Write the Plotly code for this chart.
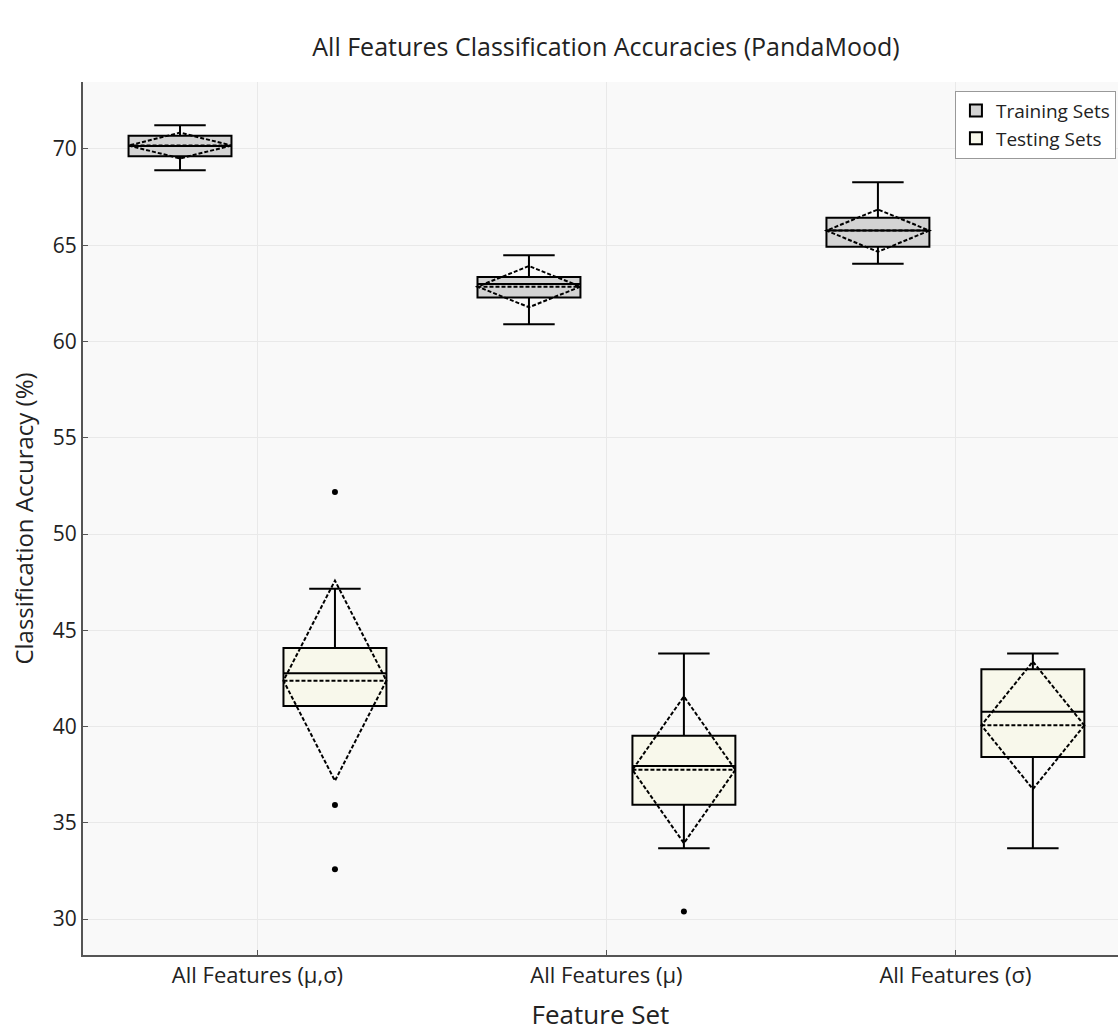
import plotly.graph_objects as go

# Feature sets on the x axis
categories = ["All Features (μ,σ)", "All Features (μ)", "All Features (σ)"]

# Training-set accuracy statistics (%)
train_q1 = [69.62, 62.28, 64.92]
train_median = [70.16, 62.99, 65.77]
train_q3 = [70.69, 63.35, 66.43]
train_low = [68.89, 60.89, 64.04]
train_high = [71.23, 64.48, 68.27]
train_mean = [70.18, 62.85, 65.76]
train_sd = [0.67, 1.07, 1.10]

# Testing-set accuracy statistics (%)
test_q1 = [41.07, 35.94, 38.42]
test_median = [42.77, 37.95, 40.77]
test_q3 = [44.08, 39.52, 42.97]
test_low = [41.07, 33.68, 33.68]
test_high = [47.16, 43.79, 43.79]
test_mean = [42.38, 37.75, 40.06]
test_sd = [5.20, 3.81, 3.31]

# Testing-set outliers: (category index, accuracy)
test_outliers_cat = [0, 0, 0, 1]
test_outliers_val = [52.18, 35.92, 32.58, 30.39]

offset = 0.222
box_width = 0.295
idx = list(range(len(categories)))

fig = go.Figure()

line = dict(color="black", width=2)

fig.add_trace(go.Box(
    name="Training Sets",
    x=[i - offset for i in idx],
    q1=train_q1, median=train_median, q3=train_q3,
    lowerfence=train_low, upperfence=train_high,
    mean=train_mean, sd=train_sd,
    boxmean="sd", width=box_width, whiskerwidth=0.5,
    fillcolor="#d3d3d3", line=line,
    boxpoints=False,
))

fig.add_trace(go.Box(
    name="Testing Sets",
    x=[i + offset for i in idx],
    q1=test_q1, median=test_median, q3=test_q3,
    lowerfence=test_low, upperfence=test_high,
    mean=test_mean, sd=test_sd,
    boxmean="sd", width=box_width, whiskerwidth=0.5,
    fillcolor="#f8f8eb", line=line,
    boxpoints=False,
))

fig.add_trace(go.Scatter(
    x=[c + offset for c in test_outliers_cat],
    y=test_outliers_val,
    mode="markers",
    marker=dict(color="black", size=6),
    showlegend=False,
    hoverinfo="y",
))

font_family = "Open Sans"
text_color = "#222222"

fig.update_layout(
    width=1118, height=1032,
    margin=dict(l=83, r=0, t=82, b=77, autoexpand=False),
    paper_bgcolor="white",
    plot_bgcolor="#f9f9f9",
    font=dict(family=font_family, color=text_color, size=20),
    title=dict(
        text="All Features Classification Accuracies (PandaMood)",
        x=606 / 1118, xref="container", xanchor="center",
        y=1 - 47 / 1032, yref="container", yanchor="middle",
        font=dict(size=25, family=font_family, color=text_color),
    ),
    showlegend=True,
    legend=dict(
        x=0.998, xref="paper", xanchor="right",
        y=0.99, yref="paper", yanchor="top",
        bgcolor="white", bordercolor="#999999", borderwidth=1,
        font=dict(size=19, family=font_family, color=text_color),
        tracegroupgap=0,
    ),
)

fig.update_xaxes(
    range=[-0.5, 2.466],
    tickmode="array", tickvals=idx, ticktext=categories,
    showline=True, linecolor="#555555", linewidth=2,
    ticks="inside", ticklen=5, tickcolor="#555555",
    showgrid=True, gridcolor="#e9e9e9", gridwidth=1,
    zeroline=False,
    tickfont=dict(size=22),
    title=dict(text="Feature Set", font=dict(size=26), standoff=22),
)

fig.update_yaxes(
    range=[28.13, 73.48],
    tickmode="array", tickvals=[30, 35, 40, 45, 50, 55, 60, 65, 70],
    showline=True, linecolor="#555555", linewidth=2,
    ticks="inside", ticklen=5, tickcolor="#555555",
    showgrid=True, gridcolor="#e9e9e9", gridwidth=1,
    zeroline=False,
    tickfont=dict(size=21),
    title=dict(text="Classification Accuracy (%)", font=dict(size=24), standoff=12),
)

fig.write_html("out.html")
